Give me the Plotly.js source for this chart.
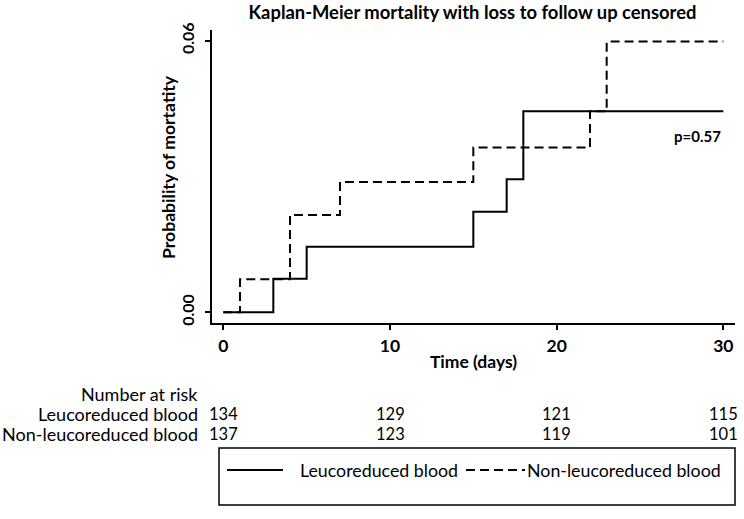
<!DOCTYPE html>
<html>
<head>
<meta charset="utf-8">
<script src="https://cdn.plot.ly/plotly-3.0.1.min.js"></script>
<style>html,body{margin:0;padding:0;background:#fff}#chart{width:744px;height:519px}</style>
</head>
<body>
<div id="chart"></div>
<script>
// ---- data ----
const leucoTime   = [0, 3, 5, 15, 17, 18, 30];
const leucoProb   = [0, 0.0074, 0.0145, 0.0222, 0.0294, 0.0444, 0.0444];
const nonLeucoTime = [0, 1, 4, 7, 15, 22, 23, 30];
const nonLeucoProb = [0, 0.0073, 0.0215, 0.0288, 0.0364, 0.0444, 0.0598, 0.0598];
const seriesNames = ["Leucoreduced blood", "Non-leucoreduced blood"];
const riskTimes = [0, 10, 20, 30];
const leucoAtRisk = [134, 129, 121, 115];
const nonLeucoAtRisk = [137, 123, 119, 101];
const xTicks = [0, 10, 20, 30];
const yTicks = [0, 0.06];
const yTickText = ["0.00", "0.06"];
const pValueText = "p=0.57";

// ---- layout helpers (pixel geometry) ----
const W = 744, H = 519;
const plotL = 212, plotR = 735, plotT = 30, plotB = 323;
const FONT = "Lato, 'DejaVu Sans', sans-serif";
function py(px) { return (plotB - px) / (plotB - plotT); }
function pxX(px) { return (px - plotL) / (plotR - plotL); }

const SOLID = {color: "#000", width: 2};
const DASHED = {color: "#000", width: 2, dash: "9px,5px"};

const traces = [
  {x: leucoTime, y: leucoProb, name: seriesNames[0], type: "scatter", mode: "lines",
   line: Object.assign({shape: "hv"}, SOLID), showlegend: false},
  {x: nonLeucoTime, y: nonLeucoProb, name: seriesNames[1], type: "scatter", mode: "lines",
   line: Object.assign({shape: "hv"}, DASHED), showlegend: false}
];

const TBL = 18;
const NUM = 16.5;
const LEG = 17.8;
const annotations = [];
annotations.push({xref: "paper", yref: "paper", x: pxX(200), y: py(394), xanchor: "right", yanchor: "middle",
  text: "Number at risk", showarrow: false, font: {family: FONT, size: TBL, color: "#000"}});
[[seriesNames[0], leucoAtRisk, 414], [seriesNames[1], nonLeucoAtRisk, 434]].forEach(function (row) {
  annotations.push({xref: "paper", yref: "paper", x: pxX(200), y: py(row[2]), xanchor: "right", yanchor: "middle",
    text: row[0], showarrow: false, font: {family: FONT, size: TBL, color: "#000"}});
  riskTimes.forEach(function (t, i) {
    annotations.push({xref: "x", yref: "paper", x: t, y: py(row[2]), xanchor: "center", yanchor: "middle",
      text: String(row[1][i]), showarrow: false, font: {family: FONT, size: NUM, color: "#000"}});
  });
});
annotations.push({xref: "x", yref: "y", x: 30, y: 0.0389, xanchor: "right", yanchor: "middle",
  text: pValueText, showarrow: false, font: {family: FONT, size: 15, color: "#000", weight: "bold"}});
// y-axis title
annotations.push({xref: "paper", yref: "paper", x: pxX(168), y: py(167), xanchor: "center", yanchor: "middle",
  textangle: -90, text: "Probability of mortatity", showarrow: false,
  font: {family: FONT, size: 17.6, color: "#000", weight: "bold"}});
// legend texts
annotations.push({xref: "paper", yref: "paper", x: pxX(298), y: py(470), xanchor: "left", yanchor: "middle",
  text: seriesNames[0], showarrow: false, font: {family: FONT, size: LEG, color: "#000"}});
annotations.push({xref: "paper", yref: "paper", x: pxX(525), y: py(470), xanchor: "left", yanchor: "middle",
  text: seriesNames[1], showarrow: false, font: {family: FONT, size: LEG, color: "#000"}});

const shapes = [
  {type: "rect", xref: "paper", yref: "paper", x0: pxX(219), x1: pxX(735), y0: py(448), y1: py(505),
   line: {color: "#000", width: 1.5}, fillcolor: "rgba(0,0,0,0)"},
  {type: "line", xref: "paper", yref: "paper", x0: pxX(227), x1: pxX(283), y0: py(470), y1: py(470), line: SOLID},
  {type: "line", xref: "paper", yref: "paper", x0: pxX(466), x1: pxX(525), y0: py(470), y1: py(470), line: DASHED}
];

const layout = {
  width: W, height: H,
  margin: {l: plotL, r: W - plotR, t: plotT, b: H - plotB, pad: 0},
  paper_bgcolor: "#fff", plot_bgcolor: "#fff",
  font: {family: FONT, color: "#000"},
  title: {text: "Kaplan-Meier mortality with loss to follow up censored",
    x: 472.5 / W, xanchor: "center", xref: "container", y: 1 - 13 / H, yanchor: "middle", yref: "container",
    font: {family: FONT, size: 18.4, weight: "bold", color: "#000"}},
  xaxis: {range: [-0.68, 30.7], tickvals: xTicks, ticks: "outside", ticklen: 5, tickwidth: 2, tickcolor: "#000",
    showline: true, linecolor: "#000", linewidth: 2, showgrid: false, zeroline: false,
    ticklabelstandoff: 1,
    tickfont: {family: FONT, size: 17.5, weight: "bold"},
    title: {text: "Time (days)", standoff: 1, font: {family: FONT, size: 17.5, weight: "bold"}}},
  yaxis: {range: [-0.00236, 0.06236], tickvals: yTicks, ticktext: yTickText, tickangle: -90,
    ticks: "outside", ticklen: 5, tickwidth: 2, tickcolor: "#000",
    showline: true, linecolor: "#000", linewidth: 2, showgrid: false, zeroline: false,
    ticklabelstandoff: 5,
    tickfont: {family: FONT, size: 16, weight: "bold"}},
  showlegend: false,
  shapes: shapes,
  annotations: annotations
};

Plotly.newPlot("chart", traces, layout, {displayModeBar: false, staticPlot: true});
</script>
</body>
</html>
